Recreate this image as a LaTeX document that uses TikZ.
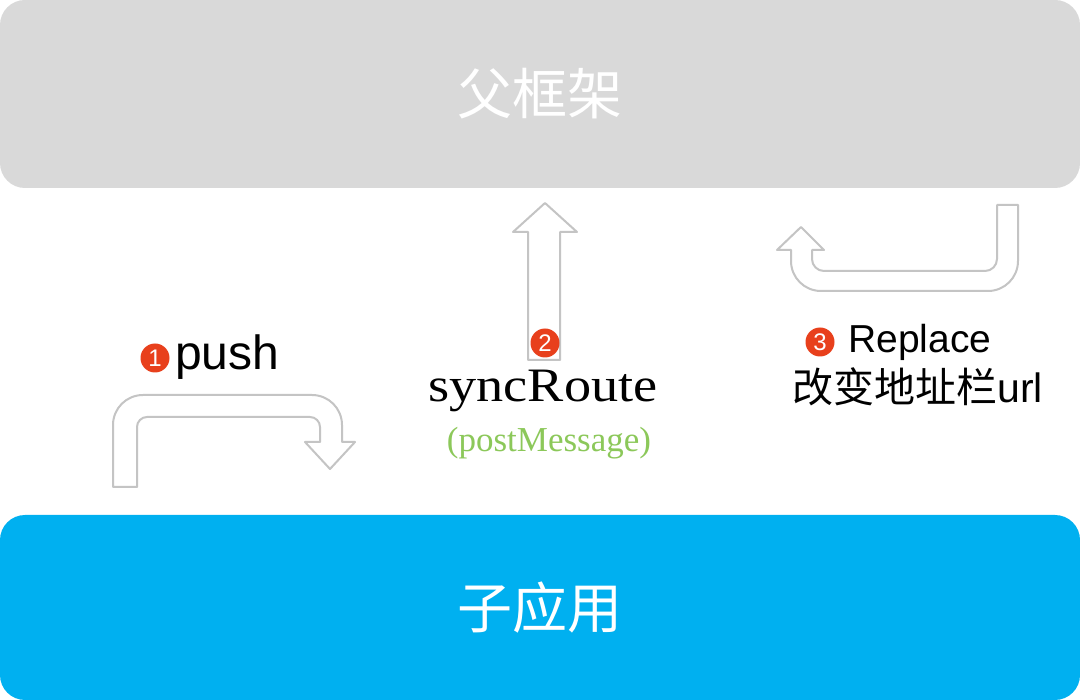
\documentclass[tikz,border=0pt]{standalone}
\usepackage{graphicx}
\usepackage{fontspec}
\setmainfont{Liberation Sans}
\newfontfamily\cjk{Noto Sans CJK SC}
\newfontfamily\serifft{Liberation Serif}
\definecolor{topgray}{HTML}{D9D9D9}
\definecolor{subblue}{HTML}{00B0F0}
\definecolor{arrowgray}{HTML}{C4C4C4}
\definecolor{badgered}{HTML}{E8401C}
\definecolor{pmgreen}{HTML}{8CC85A}
\tikzset{
  bigbox/.style={rounded corners=25pt, minimum width=1080pt, inner sep=0pt, text=white,
     font=\cjk\fontsize{55}{60}\selectfont},
  blockarrow/.style={draw=arrowgray, line width=2pt, fill=white, line join=round},
  badge/.style={circle, fill=badgered, text=white, minimum size=29pt, inner sep=0pt,
     font=\fontsize{24}{24}\selectfont},
}
\begin{document}
\begin{tikzpicture}[x=1pt,y=-1pt]
\useasboundingbox (0,0) rectangle (1080,700);
\fill[white] (0,0) rectangle (1080,700);

% boxes
\node[bigbox, fill=topgray, minimum height=188pt] (parent) at (540,94) {父框架};
\node[bigbox, fill=subblue, minimum height=185pt] (child) at (540,607.5) {子应用};

% arrow 1 (push)
\draw[blockarrow] (113,487) -- (113,425) .. controls (113,408.4) and (126.4,395) .. (143,395)
  -- (312,395) .. controls (328.6,395) and (342,408.4) .. (342,425) -- (342,442)
  -- (355,442) -- (330,469) -- (305,442) -- (320,442) -- (320,427)
  .. controls (320,421.5) and (315.5,417) .. (310,417) -- (147,417)
  .. controls (141.5,417) and (137,421.5) .. (137,427) -- (137,487) -- cycle;

% arrow 2 (syncRoute)
\draw[blockarrow] (528,360) -- (528,232) -- (513,232) -- (545,203) -- (577,232)
  -- (560,232) -- (560,360) -- cycle;

% arrow 3 (replace)
\draw[blockarrow] (997,205) -- (1018,205) -- (1018,261)
  .. controls (1018,277.6) and (1004.6,291) .. (988,291) -- (821,291)
  .. controls (804.4,291) and (791,277.6) .. (791,261) -- (791,250)
  -- (777,250) -- (801,227) -- (824,250) -- (812,250) -- (812,259)
  .. controls (812,265.6) and (817.4,271) .. (824,271) -- (985,271)
  .. controls (991.6,271) and (997,265.6) .. (997,259) -- cycle;

% labels
\node[badge] (b1) at (155,358) {1};
\node[anchor=base west, inner sep=0pt, font=\fontsize{48}{48}\selectfont] (push) at (175,370) {push};

\node[badge] (b2) at (545,343) {2};
\node[anchor=base, inner sep=0pt, font=\serifft\fontsize{48}{48}\selectfont] (sync) at (543,402)
  {\scalebox{1.13}[1]{syncRoute}};
\node[anchor=base, inner sep=0pt, text=pmgreen, font=\serifft\fontsize{35}{35}\selectfont] (pm) at (549,452)
  {(postMessage)};

\node[badge] (b3) at (820,342) {3};
\node[anchor=base west, inner sep=0pt, font=\fontsize{39}{39}\selectfont] (replace) at (848,353) {Replace};
\node[anchor=base west, inner sep=0pt, font=\fontsize{41}{41}\selectfont] (url) at (792,403) {{\cjk 改变地址栏}url};
\end{tikzpicture}
\end{document}
